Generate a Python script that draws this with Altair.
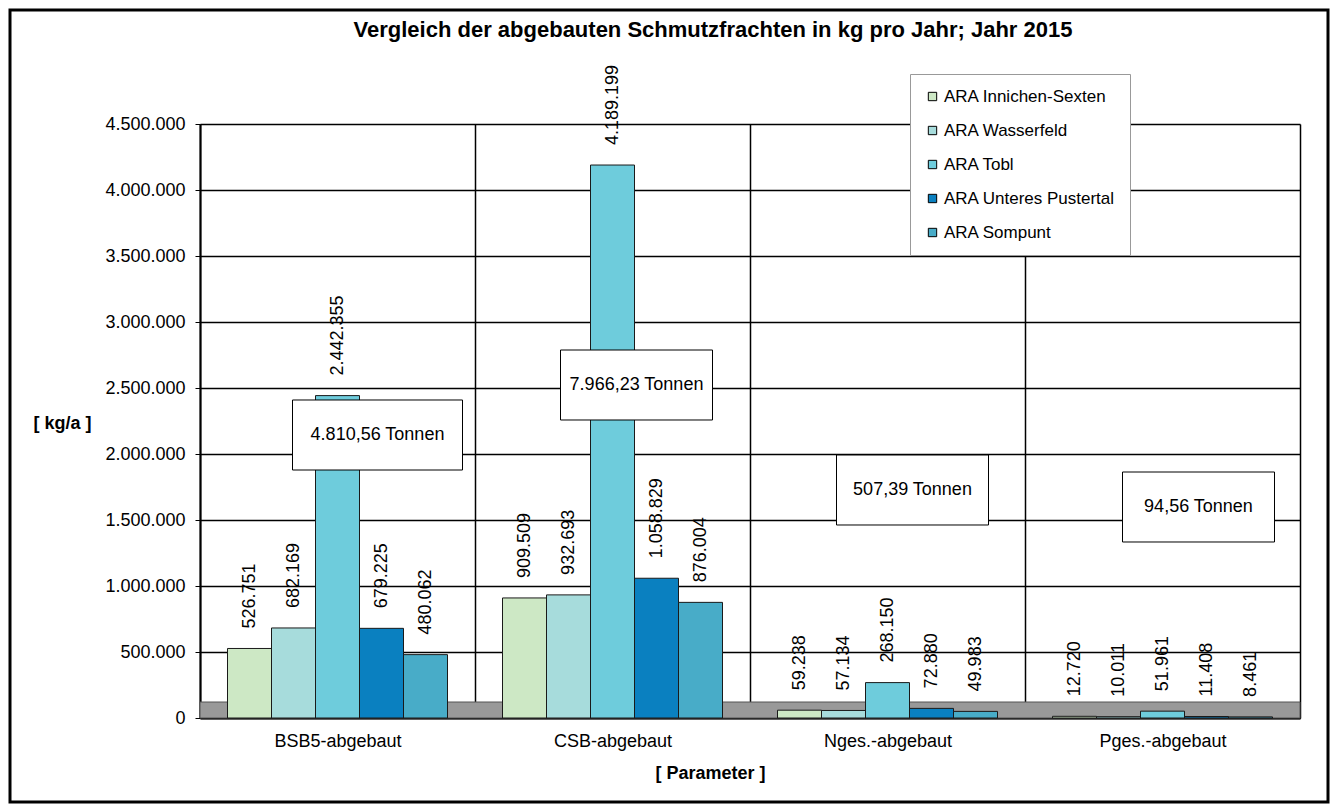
import altair as alt
import pandas as pd

categories = ["BSB5-abgebaut", "CSB-abgebaut", "Nges.-abgebaut", "Pges.-abgebaut"]
plants = ["ARA Innichen-Sexten", "ARA Wasserfeld", "ARA Tobl", "ARA Unteres Pustertal", "ARA Sompunt"]
innichen = [526751, 909509, 59238, 12720]
wasserfeld = [682169, 932693, 57134, 10011]
tobl = [2442355, 4189199, 268150, 51961]
unteres = [679225, 1058829, 72880, 11408]
sompunt = [480062, 876004, 49983, 8461]
totals = ["4.810,56 Tonnen", "7.966,23 Tonnen", "507,39 Tonnen", "94,56 Tonnen"]
title_text = "Vergleich der abgebauten Schmutzfrachten in kg pro Jahr; Jahr 2015"
colors = ["#CDE8C5", "#A7DCDC", "#6ECCDC", "#0A80C0", "#48ACC8"]
FONT = "Liberation Sans"
FS = 18

series = [innichen, wasserfeld, tobl, unteres, sompunt]
rows = []
for p, vals in zip(plants, series):
    for c, v in zip(categories, vals):
        rows.append({"Parameter": c, "ARA": p, "Wert": v,
                     "Label": f"{v:,}".replace(",", ".")})
df = pd.DataFrame(rows)
tot_df = pd.DataFrame({"Parameter": categories, "Summe": totals})
title_df = pd.DataFrame({"t": [title_text]})

W, H = 1100, 594

x_enc = alt.X("Parameter:N", sort=categories,
              scale=alt.Scale(domain=categories, paddingInner=0, paddingOuter=0),
              axis=alt.Axis(title="[ Parameter ]", labelAngle=0, ticks=False,
                            labelPadding=14, labelFontSize=FS, labelFont=FONT,
                            labelColor="black", grid=True, tickBand="extent",
                            gridColor="black", gridWidth=1.5, domainColor="black",
                            domainWidth=2, titleFont=FONT, titleFontSize=FS,
                            titleFontWeight="bold", titleX=510, titleY=55,
                            titleBaseline="middle", titleAlign="center",
                            titleColor="black"))
xoff_enc = alt.XOffset("ARA:N", sort=plants,
                       scale=alt.Scale(domain=plants, paddingInner=0, paddingOuter=0.625))
y_scale = alt.Scale(domain=[0, 4500000], nice=False)

base = alt.Chart(df)

frame = alt.Chart(title_df).mark_rect(fill=None, stroke="black", strokeWidth=3).encode(
    x=alt.value(-190), x2=alt.value(1128), y=alt.value(-114), y2=alt.value(678))

title = alt.Chart(title_df).mark_text(font=FONT, fontSize=22, fontWeight="bold",
                                      color="black", align="center", baseline="middle").encode(
    x=alt.value(513), y=alt.value(-94), text="t:N")

floor = alt.Chart(title_df).mark_rect(fill="#999999", stroke="#555555", strokeWidth=1).encode(
    x=alt.value(0), x2=alt.value(W), y=alt.value(H - 16), y2=alt.value(H))

bars = base.mark_bar(stroke="#1a1a1a", strokeWidth=1).encode(
    x=x_enc,
    xOffset=xoff_enc,
    y=alt.Y("Wert:Q", scale=y_scale,
            axis=alt.Axis(title="[ kg/a ]", values=list(range(0, 4500001, 500000)),
                          labelExpr="replace(format(datum.value, ','), regexp(',', 'g'), '.')",
                          labelFont=FONT, labelFontSize=FS, labelColor="black",
                          tickSize=5, tickColor="black", labelPadding=10,
                          grid=True, gridColor="black", gridWidth=1.5,
                          domainColor="black", domainWidth=2,
                          titleAngle=0, titleX=-138, titleY=299, titleAlign="center",
                          titleBaseline="middle", titleFont=FONT, titleFontSize=FS,
                          titleFontWeight="bold", titleColor="black")),
    color=alt.Color("ARA:N", sort=plants,
                    scale=alt.Scale(domain=plants, range=colors),
                    legend=alt.Legend(title=None, orient="none", legendX=710, legendY=-50,
                                      fillColor="white", strokeColor="#999999",
                                      padding=14, rowPadding=16, labelFontSize=17,
                                      labelFont=FONT, labelColor="black", labelLimit=400,
                                      symbolType="square", symbolSize=70,
                                      symbolStrokeColor="black", symbolStrokeWidth=1,
                                      labelOffset=3)),
)

labels = base.mark_text(angle=270, align="left", baseline="middle", dx=20,
                        font=FONT, fontSize=FS, color="black").encode(
    x=alt.X("Parameter:N", sort=categories),
    xOffset=alt.XOffset("ARA:N", sort=plants),
    y=alt.Y("Wert:Q", scale=y_scale),
    text="Label:N",
)

box_specs = [
    (categories[0], 170, 311, 40),
    (categories[1], 152, 261, 24),
    (categories[2], 152, 366, 25),
    (categories[3], 152, 383, 36),
]
boxes = []
for cat, bw, by, off in box_specs:
    r = 70 / bw
    path = f"M-1,-{r:.4f}H1V{r:.4f}H-1Z"
    src = alt.Chart(tot_df).transform_filter(alt.datum.Parameter == cat)
    boxes.append(src.mark_point(shape=path, size=bw * bw, filled=True, fill="white",
                                stroke="black", strokeWidth=1, opacity=1,
                                xOffset=off).encode(
        x=alt.X("Parameter:N", sort=categories), y=alt.value(by)))
    boxes.append(src.mark_text(font=FONT, fontSize=FS, color="black", xOffset=off,
                               baseline="middle").encode(
        x=alt.X("Parameter:N", sort=categories), y=alt.value(by), text="Summe:N"))

chart = alt.layer(floor, bars, labels, *boxes, title, frame).properties(
    width=W, height=H,
    autosize=alt.AutoSizeParams(type="none"),
    padding={"left": 192, "top": 116, "right": 30, "bottom": 86},
).configure_view(stroke="black", strokeWidth=1.5).configure(background="white")

chart.save("out.html", embed_options={"renderer": "svg", "actions": False})
